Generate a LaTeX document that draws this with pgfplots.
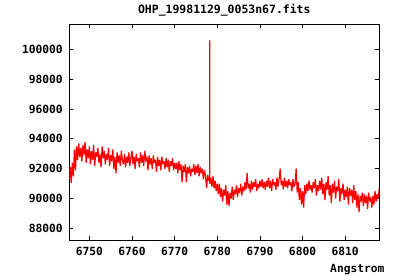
\documentclass[border=0pt]{standalone}
\usepackage{fontspec}
\setmainfont{DejaVu Sans Mono}
\usepackage{pgfplots}
\pgfplotsset{compat=1.18}
\begin{document}
\begin{tikzpicture}
\useasboundingbox (0,0) rectangle (400bp,280bp);
\begin{axis}[
  at={(69.3bp,40bp)}, anchor=south west,
  scale only axis, width=310bp, height=215.5bp,
  xmin=6745.3, xmax=6818, ymin=87230, ymax=101660,
  xtick={6750,6760,...,6810}, ytick={88000,90000,...,100000},
  scaled ticks=false,
  /pgf/number format/1000 sep={},
  /pgf/number format/fixed,
  /pgf/number format/assume math mode=true,
  tick align=inside, major tick length=4bp,
  tick style={black, line width=0.8bp},
  axis line style={black, line width=0.9bp},
  tick label style={font=\fontsize{11.3}{13}\selectfont\bfseries},
  xticklabel style={yshift=-4bp},
  yticklabel style={xshift=-3bp},
  title={OHP\_19981129\_0053n67.fits},
  title style={font=\fontsize{11.5}{13}\selectfont\bfseries, yshift=-1bp},
  xlabel={Angstrom},
  xlabel style={at={(axis description cs:1.028,-0.139)}, anchor=east, font=\fontsize{11.3}{13}\selectfont\bfseries},
]
\addplot[red, line width=1.2bp, line join=bevel, mark=none] coordinates {
(6745.25,91300)(6745.5,92100)(6745.75,91050)(6746,92400)
(6746.25,91500)(6746.5,93300)(6746.75,91900)(6747,93500)(6747.25,92600)(6747.5,93700)(6747.75,92800)(6748,93400)
(6748.25,92500)(6748.5,93600)(6748.75,92900)(6749,93800)(6749.25,92400)(6749.5,93300)(6749.75,92700)(6750,93500)
(6750.25,92300)(6750.5,93200)(6750.75,92600)(6751,93600)(6751.25,92200)(6751.5,93100)(6751.75,92800)(6752,93400)
(6752.25,92400)(6752.5,93000)(6752.75,92100)(6753,93500)(6753.25,92700)(6753.5,93200)(6753.75,92300)(6754,93000)
(6754.25,92600)(6754.5,93400)(6754.75,92200)(6755,92900)(6755.25,92500)(6755.5,93300)(6755.75,92000)(6756,92800)
(6756.25,91700)(6756.5,93100)(6756.75,92400)(6757,92900)(6757.25,92200)(6757.5,93200)(6757.75,92600)(6758,92300)
(6758.25,93000)(6758.5,92100)(6758.75,92800)(6759,92400)(6759.25,93100)(6759.5,92200)(6759.75,92700)(6760,93200)
(6760.25,92300)(6760.5,92800)(6760.75,92000)(6761,93000)(6761.25,92500)(6761.5,92700)(6761.75,92100)(6762,93100)
(6762.25,92400)(6762.5,92900)(6762.75,92200)(6763,93200)(6763.25,92500)(6763.5,92800)(6763.75,91900)(6764,92900)
(6764.25,92300)(6764.5,92700)(6764.75,92000)(6765,92900)(6765.25,92400)(6765.5,92600)(6765.75,91800)(6766,92800)
(6766.25,92200)(6766.5,92600)(6766.75,91900)(6767,92800)(6767.25,92300)(6767.5,92500)(6767.75,92000)(6768,92700)
(6768.25,92100)(6768.5,92600)(6768.75,91800)(6769,92500)(6769.25,92200)(6769.5,92700)(6769.75,91900)(6770,92400)
(6770.25,92000)(6770.5,92400)(6770.75,91700)(6771,92500)(6771.25,91900)(6771.5,92300)(6771.75,91100)(6772,92200)
(6772.25,91800)(6772.5,92300)(6772.75,91100)(6773,92100)(6773.25,91700)(6773.5,92200)(6773.75,91500)(6774,92000)
(6774.25,91800)(6774.5,92300)(6774.75,91600)(6775,92200)(6775.25,91700)(6775.5,92300)(6775.75,91500)(6776,92100)
(6776.25,91700)(6776.5,92000)(6776.75,91300)(6777,91900)(6777.25,91500)(6777.5,90700)(6777.75,91600)(6778,91200)
(6778.25,91300)(6778.25,100600)(6778.25,91000)
(6778.5,91400)(6778.75,90800)(6779,91500)(6779.25,90700)(6779.5,91200)(6779.75,90500)(6780,91000)
(6780.25,90300)(6780.5,91000)(6780.75,90100)(6781,90700)(6781.25,89800)(6781.5,90600)(6781.75,90200)(6782,90900)
(6782.25,89600)(6782.5,90500)(6782.75,89500)(6783,90400)(6783.25,90000)(6783.5,90800)(6783.75,89900)(6784,90600)
(6784.25,90300)(6784.5,90900)(6784.75,90100)(6785,90700)(6785.25,90400)(6785.5,91000)(6785.75,90200)(6786,90800)
(6786.25,90500)(6786.5,91100)(6786.75,90600)(6787,91700)(6787.25,90700)(6787.5,91000)(6787.75,90400)(6788,91200)
(6788.25,90600)(6788.5,91100)(6788.75,90800)(6789,91300)(6789.25,90500)(6789.5,91000)(6789.75,90700)(6790,91200)
(6790.25,90800)(6790.5,91300)(6790.75,90700)(6791,91100)(6791.25,90600)(6791.5,91200)(6791.75,90800)(6792,91400)
(6792.25,90700)(6792.5,91200)(6792.75,90500)(6793,91300)(6793.25,90900)(6793.5,91100)(6793.75,90600)(6794,91400)
(6794.25,90800)(6794.5,91300)(6794.75,92000)(6795,90900)(6795.25,91200)(6795.5,90600)(6795.75,91400)(6796,90800)
(6796.25,91200)(6796.5,90700)(6796.75,91300)(6797,90900)(6797.25,91100)(6797.5,90500)(6797.75,91300)(6798,90800)
(6798.25,91000)(6798.5,92000)(6798.75,90400)(6799,91100)(6799.25,89900)(6799.5,90700)(6799.75,89600)(6800,90500)
(6800.25,89400)(6800.5,90900)(6800.75,90300)(6801,91000)(6801.25,90500)(6801.5,91200)(6801.75,90600)(6802,90900)
(6802.25,90400)(6802.5,91100)(6802.75,90700)(6803,91300)(6803.25,90200)(6803.5,90900)(6803.75,90500)(6804,91200)
(6804.25,90600)(6804.5,91400)(6804.75,90300)(6805,91000)(6805.25,89900)(6805.5,91100)(6805.75,90600)(6806,91500)
(6806.25,90200)(6806.5,90900)(6806.75,89700)(6807,91000)(6807.25,90400)(6807.5,91200)(6807.75,90000)(6808,90800)
(6808.25,90500)(6808.5,91300)(6808.75,89800)(6809,90700)(6809.25,90300)(6809.5,91000)(6809.75,89900)(6810,90600)
(6810.25,90100)(6810.5,90800)(6810.75,89600)(6811,90700)(6811.25,90200)(6811.5,90600)(6811.75,89700)(6812,90900)
(6812.25,89900)(6812.5,90500)(6812.75,89400)(6813,90300)(6813.25,89100)(6813.5,90200)(6813.75,89800)(6814,90400)
(6814.25,89500)(6814.5,90300)(6814.75,89700)(6815,90200)(6815.25,89300)(6815.5,90400)(6815.75,89800)(6816,90100)
(6816.25,89400)(6816.5,90200)(6816.75,89600)(6817,90500)(6817.25,89800)(6817.5,90300)(6817.75,90000)(6818,90700)
};
\end{axis}
\end{tikzpicture}
\end{document}
